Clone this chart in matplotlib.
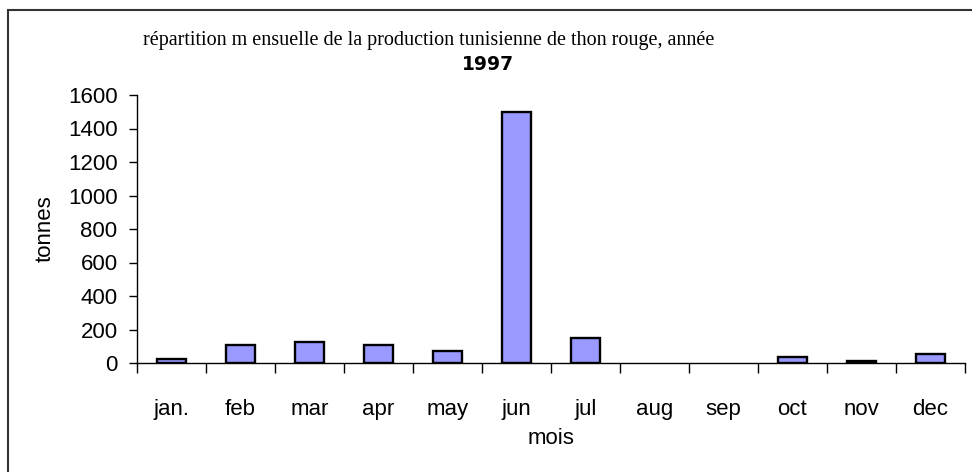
import matplotlib.pyplot as plt
import matplotlib.patches as mpatches
import numpy as np

# donnees
mois = ['jan.', 'feb', 'mar', 'apr', 'may', 'jun', 'jul', 'aug', 'sep', 'oct', 'nov', 'dec']
tonnes = [22, 107, 127, 106, 73, 1500, 147, 0, 0, 34, 14, 54]
yticks = [0, 200, 400, 600, 800, 1000, 1200, 1400, 1600]

plt.rcParams['font.family'] = ['Liberation Sans', 'DejaVu Sans']

fig = plt.figure(figsize=(9.72, 4.72), dpi=100)
ax = fig.add_axes([137/972, (472-363)/472, (965-137)/972, (363-95)/472])

x = np.arange(len(mois))
# pas de contour pour les mois sans production
bords = ['black' if v > 0 else 'none' for v in tonnes]
ax.bar(x, tonnes, width=0.42, color='#9999ff', edgecolor=bords, linewidth=1.7, zorder=3)

ax.set_xlim(-0.5, len(mois) - 0.5)
ax.set_ylim(0, 1600)
ax.set_yticks(yticks)
ax.set_yticklabels([str(v) for v in yticks], fontsize=16)
ax.set_xticks(np.arange(-0.5, len(mois), 1.0))
ax.set_xticklabels([])
ax.set_xticks(x, minor=True)
ax.set_xticklabels(mois, minor=True, fontsize=16)
ax.tick_params(axis='x', which='major', length=7, width=1, direction='out')
ax.tick_params(axis='x', which='minor', length=0, pad=26)
ax.tick_params(axis='y', length=6, width=1, direction='out', pad=8)

for s in ['top', 'right']:
    ax.spines[s].set_visible(False)
ax.spines['left'].set_linewidth(1)
ax.spines['bottom'].set_linewidth(1)

ax.set_xlabel('mois', fontsize=16, va='center')
ax.xaxis.set_label_coords(0.5, -(438-363)/268)
ax.set_ylabel('tonnes', fontsize=16, va='center')
ax.yaxis.set_label_coords((45-137)/828, 0.5)

# titre
fig.text(429/972, 1 - 41/472, 'répartition m ensuelle de la production tunisienne de thon rouge, année',
         ha='center', va='center', fontsize=14.5, family='Liberation Serif')
fig.text(488/972, 1 - 65/472, '1997', ha='center', va='center', fontsize=13.5,
         fontweight='bold', family='DejaVu Sans')

# cadre du graphique
cadre = mpatches.Rectangle((8/972, -0.5), 2, 0.5 + (472-10)/472, transform=fig.transFigure,
                           fill=False, edgecolor='#333333', linewidth=1.5)
fig.patches.append(cadre)

plt.savefig('out.png', dpi=100)
